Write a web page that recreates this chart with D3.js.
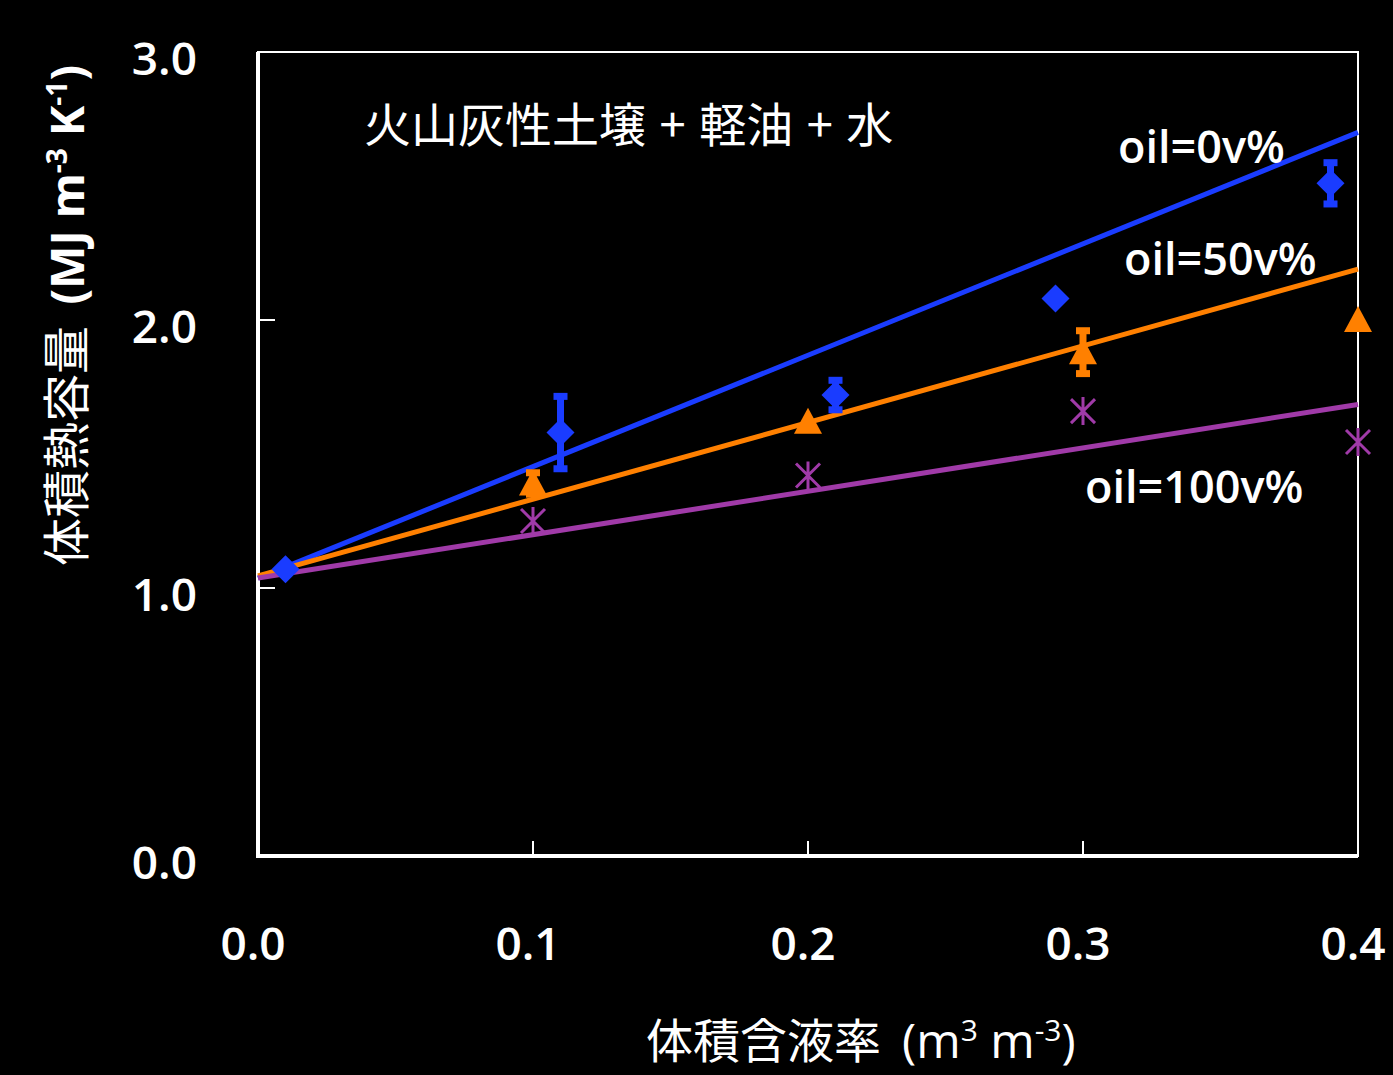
<!DOCTYPE html>
<html>
<head>
<meta charset="utf-8">
<script src="https://cdn.jsdelivr.net/npm/d3@7"></script>
<style>
  html, body { margin: 0; padding: 0; background: #000; }
  svg { display: block; }
</style>
</head>
<body>
<svg id="chart" width="1393" height="1075"></svg>
<script>
// series values
var seriesNames = ["oil=0v%", "oil=50v%", "oil=100v%"];
var seriesColors = ["#1a3cff", "#ff8000", "#a03aa8"];

var blueX = [0.01, 0.11, 0.21, 0.29, 0.39];
var blueY = [1.07, 1.58, 1.72, 2.08, 2.51];
var blueErr = [0, 0.135, 0.055, 0, 0.077];

var orangeX = [0.1, 0.2, 0.3, 0.4];
var orangeY = [1.39, 1.62, 1.88, 2.0];
var orangeErr = [0.04, 0, 0.08, 0];

var purpleX = [0.1, 0.2, 0.3, 0.4];
var purpleY = [1.25, 1.42, 1.66, 1.545];

// fitted lines, value at x=0 and x=0.4
var fitStart = [1.037, 1.045, 1.037];
var fitEnd = [2.70, 2.19, 1.685];

var xTicks = [0, 0.1, 0.2, 0.3, 0.4];
var yTicks = [0, 1, 2, 3];

var labelPos = [[1118, 163], [1124, 275], [1085, 503]];

var svg = d3.select("#chart");
svg.append("rect").attr("width", 1393).attr("height", 1075).attr("fill", "#000");

var margin = {left: 258, right: 1358, top: 52, bottom: 856};
var x = d3.scaleLinear().domain([0, 0.4]).range([margin.left, margin.right]);
var y = d3.scaleLinear().domain([0, 3]).range([margin.bottom, margin.top]);

var tickFont = "'Open Sans', 'DejaVu Sans', sans-serif";
var cjkFont = "'Noto Sans CJK JP', 'Noto Sans', sans-serif";

// frame: thin top/right, heavier left/bottom
svg.append("rect")
    .attr("x", margin.left)
    .attr("y", margin.top)
    .attr("width", margin.right - margin.left)
    .attr("height", margin.bottom - margin.top)
    .attr("fill", "none")
    .attr("stroke", "#fff")
    .attr("stroke-width", 2);
svg.append("path")
    .attr("d", "M" + margin.left + "," + margin.top + "V" + margin.bottom + "H" + margin.right)
    .attr("fill", "none")
    .attr("stroke", "#fff")
    .attr("stroke-width", 4);

// inner ticks
svg.selectAll(".xtick")
    .data(xTicks.slice(1, 4))
    .enter().append("line")
    .attr("x1", function(d) {return x(d);})
    .attr("x2", function(d) {return x(d);})
    .attr("y1", margin.bottom)
    .attr("y2", margin.bottom - 15)
    .attr("stroke", "#fff")
    .attr("stroke-width", 2);

svg.selectAll(".ytick")
    .data(yTicks.slice(1, 3))
    .enter().append("line")
    .attr("x1", margin.left)
    .attr("x2", margin.left + 17)
    .attr("y1", function(d) {return y(d);})
    .attr("y2", function(d) {return y(d);})
    .attr("stroke", "#fff")
    .attr("stroke-width", 2);

// tick labels
svg.selectAll(".xlabel")
    .data(xTicks)
    .enter().append("text")
    .attr("x", function(d) {return x(d) - 5;})
    .attr("y", 960)
    .attr("text-anchor", "middle")
    .attr("font-family", tickFont)
    .attr("font-weight", 600)
    .attr("font-size", "46px")
    .attr("fill", "#fff")
    .text(function(d) {return d3.format(".1f")(d);});

svg.selectAll(".ylabel")
    .data(yTicks)
    .enter().append("text")
    .attr("x", 197)
    .attr("y", function(d) {return y(d) + 23;})
    .attr("text-anchor", "end")
    .attr("font-family", tickFont)
    .attr("font-weight", 600)
    .attr("font-size", "46px")
    .attr("fill", "#fff")
    .text(function(d) {return d3.format(".1f")(d);});

// fitted lines
var lineGen = d3.line().x(function(d) {return x(d[0]);}).y(function(d) {return y(d[1]);});
seriesNames.forEach(function(name, i) {
    svg.append("path")
        .attr("d", lineGen([[0, fitStart[i]], [0.4, fitEnd[i]]]))
        .attr("stroke", seriesColors[i])
        .attr("stroke-width", 5)
        .attr("fill", "none");
});

// error bars
function drawErrors(xs, ys, errs, color) {
    xs.forEach(function(xv, i) {
        if (!errs[i]) return;
        var cx = x(xv);
        svg.append("line")
            .attr("x1", cx).attr("x2", cx)
            .attr("y1", y(ys[i] + errs[i])).attr("y2", y(ys[i] - errs[i]))
            .attr("stroke", color).attr("stroke-width", 7);
        [ys[i] + errs[i], ys[i] - errs[i]].forEach(function(v) {
            svg.append("line")
                .attr("x1", cx - 7).attr("x2", cx + 7)
                .attr("y1", y(v)).attr("y2", y(v))
                .attr("stroke", color).attr("stroke-width", 7);
        });
    });
}
drawErrors(blueX, blueY, blueErr, seriesColors[0]);
drawErrors(orangeX, orangeY, orangeErr, seriesColors[1]);

// markers
svg.selectAll(".diamond")
    .data(blueX)
    .enter().append("path")
    .attr("d", "M0,-14L14,0L0,14L-14,0Z")
    .attr("fill", seriesColors[0])
    .attr("transform", function(d, i) {return "translate(" + x(d) + "," + y(blueY[i]) + ")";});

svg.selectAll(".triangle")
    .data(orangeX)
    .enter().append("path")
    .attr("d", "M0,-14L14,12L-14,12Z")
    .attr("fill", seriesColors[1])
    .attr("transform", function(d, i) {return "translate(" + x(d) + "," + y(orangeY[i]) + ")";});

svg.selectAll(".star")
    .data(purpleX)
    .enter().append("path")
    .attr("d", "M-12,-12L12,12M12,-12L-12,12M0,-14L0,14")
    .attr("stroke", seriesColors[2])
    .attr("stroke-width", 3)
    .attr("fill", "none")
    .attr("transform", function(d, i) {return "translate(" + x(d) + "," + y(purpleY[i]) + ")";});

// series labels
seriesNames.forEach(function(name, i) {
    svg.append("text")
        .attr("x", labelPos[i][0])
        .attr("y", labelPos[i][1])
        .attr("font-family", tickFont)
        .attr("font-weight", 600)
        .attr("font-size", "45px")
        .attr("fill", "#fff")
        .text(name);
});

// title inside plot
svg.append("text")
    .attr("x", 364)
    .attr("y", 142)
    .attr("font-family", cjkFont)
    .attr("font-size", "47px")
    .attr("fill", "#fff")
    .attr("word-spacing", 3)
    .style("white-space", "pre")
    .text("火山灰性土壌 + 軽油 + 水");

// x axis title
var xt = svg.append("text")
    .attr("x", 646)
    .attr("y", 1058)
    .attr("font-family", cjkFont)
    .attr("font-size", "47px")
    .attr("fill", "#fff")
    .style("white-space", "pre");
xt.append("tspan").text("体積含液率  ");
xt.append("tspan").attr("font-family", tickFont).attr("font-size", "48px").text("(m");
xt.append("tspan").attr("font-family", tickFont).attr("font-size", "30px").attr("dy", -17).text("3");
xt.append("tspan").attr("font-family", tickFont).attr("font-size", "48px").attr("dy", 17).text(" m");
xt.append("tspan").attr("font-family", tickFont).attr("font-size", "30px").attr("dy", -17).text("-3");
xt.append("tspan").attr("font-family", tickFont).attr("font-size", "48px").attr("dy", 17).text(")");

// y axis title
var yt = svg.append("text")
    .attr("transform", "translate(84,566)rotate(-90)")
    .attr("font-family", cjkFont)
    .attr("font-size", "48px")
    .attr("fill", "#fff")
    .style("white-space", "pre");
yt.append("tspan").text("体積熱容量  ");
yt.append("tspan").attr("font-family", tickFont).attr("font-weight", 700).attr("font-size", "46px").text("(MJ m");
yt.append("tspan").attr("font-family", tickFont).attr("font-weight", 700).attr("font-size", "28px").attr("dy", -17).text("-3");
yt.append("tspan").attr("font-family", tickFont).attr("font-weight", 700).attr("font-size", "46px").attr("dy", 17).text(" K");
yt.append("tspan").attr("font-family", tickFont).attr("font-weight", 700).attr("font-size", "28px").attr("dy", -17).text("-1");
yt.append("tspan").attr("font-family", tickFont).attr("font-weight", 700).attr("font-size", "46px").attr("dy", 17).text(")");
</script>
</body>
</html>
